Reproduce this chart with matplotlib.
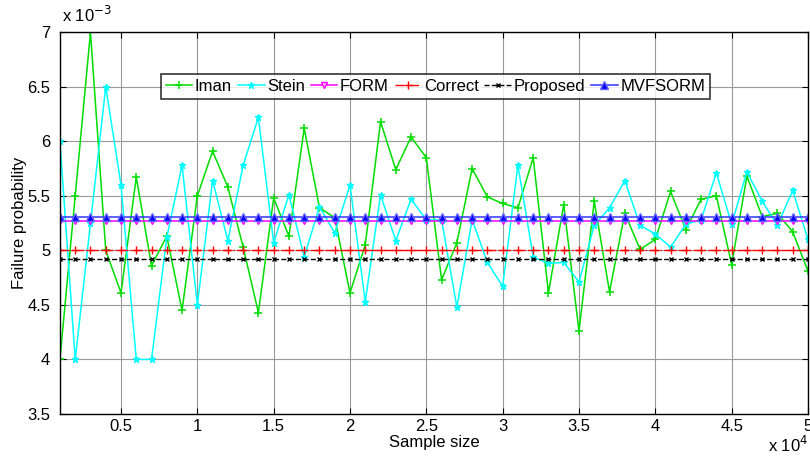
import numpy as np
import matplotlib
matplotlib.use('Agg')
import matplotlib.pyplot as plt
from matplotlib.ticker import FuncFormatter, MultipleLocator

plt.rcParams['font.family'] = ['Liberation Sans', 'DejaVu Sans']

# Sample sizes 1000 ... 50000
sample_size = np.arange(1000, 50001, 1000)

# Failure probability estimates (x 1e-3)
iman = [4.00, 5.50, 7.00, 5.00, 4.61, 5.67, 4.86, 5.13, 4.45, 5.50,
        5.91, 5.58, 5.03, 4.43, 5.48, 5.13, 6.12, 5.39, 5.30, 4.61,
        5.05, 6.18, 5.74, 6.04, 5.85, 4.73, 5.07, 5.75, 5.49, 5.43,
        5.39, 5.85, 4.61, 5.42, 4.26, 5.45, 4.62, 5.34, 5.01, 5.10,
        5.54, 5.19, 5.47, 5.50, 4.87, 5.68, 5.31, 5.34, 5.17, 4.81]
stein = [6.00, 4.00, 5.25, 6.50, 5.60, 4.00, 4.00, 5.12, 5.78, 4.50,
         5.64, 5.09, 5.78, 6.22, 5.07, 5.51, 4.94, 5.40, 5.16, 5.60,
         4.53, 5.51, 5.09, 5.47, 5.28, 5.28, 4.48, 5.28, 4.89, 4.67,
         5.78, 4.94, 4.88, 4.89, 4.71, 5.23, 5.39, 5.64, 5.23, 5.15,
         5.03, 5.24, 5.28, 5.71, 5.24, 5.72, 5.45, 5.23, 5.55, 5.10]
form_val = 5.265
correct_val = 5.00
proposed_val = 4.92
mvfsorm_val = 5.31

n = len(sample_size)
iman = np.array(iman) * 1e-3
stein = np.array(stein) * 1e-3
form = np.full(n, form_val * 1e-3)
correct = np.full(n, correct_val * 1e-3)
proposed = np.full(n, proposed_val * 1e-3)
mvfsorm = np.full(n, mvfsorm_val * 1e-3)

fig = plt.figure(figsize=(8.1, 4.61), dpi=100)
ax = fig.add_axes([0.074, 0.102, 0.9235, 0.828])

ax.plot(sample_size, iman, '-+', color='#00dd00', lw=1.1, ms=6, mew=1.1, label='Iman')
ax.plot(sample_size, stein, '-*', color='#00ffff', lw=1.1, ms=5, label='Stein')
ax.plot(sample_size, form, '-v', color='#ff00ff', lw=1.1, ms=5, mfc='#ffbbff', mec='#ff00ff', label='FORM')
ax.plot(sample_size, correct, '-.+', color='#ff0000', lw=1.0, ms=6, label='Correct')
ax.plot(sample_size, proposed, '--x', color='black', lw=1.0, ms=3, label='Proposed')
ax.plot(sample_size, mvfsorm, '-^', color='#3333ff', lw=1.1, ms=6, mfc='#0000ff', mec='#6666ff', label='MVFSORM')

ax.set_xlim(1000, 50000)
ax.set_ylim(3.5e-3, 7e-3)
ax.xaxis.set_major_locator(MultipleLocator(5000))
ax.yaxis.set_major_locator(MultipleLocator(0.5e-3))
ax.xaxis.set_major_formatter(FuncFormatter(lambda v, p: f'{v / 1e4:g}'))
ax.yaxis.set_major_formatter(FuncFormatter(lambda v, p: f'{v / 1e-3:g}'))
ax.tick_params(direction='in', top=True, right=True, labelsize=12, length=4)
ax.tick_params(axis='y', pad=7)
ax.grid(True, color='0.6', lw=0.8)
for s in ax.spines.values():
    s.set_linewidth(1.0)

ax.set_xlabel('Sample size', fontsize=12, labelpad=1)
ax.set_ylabel('Failure probability', fontsize=12, labelpad=0)

fig.text(0.076, 0.945, r'x 10$^{-3}$', fontsize=12, ha='left', va='bottom')
fig.text(0.948, 0.012, r'x 10$^{4}$', fontsize=12, ha='left', va='bottom')

leg = ax.legend(loc='upper center', bbox_to_anchor=(0.502, 0.89), ncol=6,
                fontsize=12, frameon=True, fancybox=False, edgecolor='black',
                handlelength=1.6, handletextpad=0.15, columnspacing=0.35,
                borderpad=0.3, borderaxespad=0)
leg.get_frame().set_linewidth(1.2)

fig.savefig('out.png', dpi=100)
